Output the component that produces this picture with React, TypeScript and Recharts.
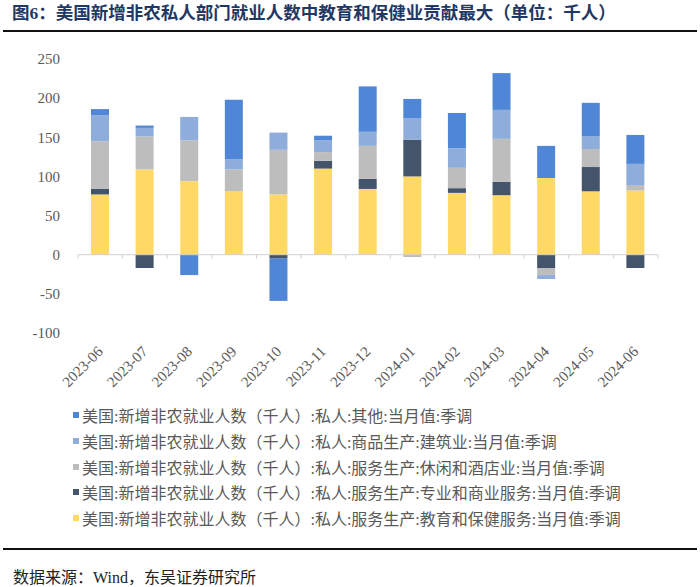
import { BarChart, Bar, XAxis, YAxis, ReferenceLine } from 'recharts';

const months = [
  '2023-06', '2023-07', '2023-08', '2023-09', '2023-10', '2023-11', '2023-12',
  '2024-01', '2024-02', '2024-03', '2024-04', '2024-05', '2024-06',
];
// 教育和保健服务
const eduHealth = [77, 109, 94, 81, 77, 110, 84, 100, 79, 76, 98, 81, 82];
// 专业和商业服务
const profBusiness = [7, -17, 0, 0, -5, 10, 13, 47, 6, 17, -17, 31, -17];
// 休闲和酒店业
const leisure = [61, 42, 52, 28, 57, 11, 42, -3, 26, 55, -9, 23, 7];
// 建筑业
const construction = [33, 11, 30, 13, 22, 15, 18, 27, 25, 37, -5, 16, 27];
// 其他
const other = [8, 3, -26, 76, -54, 6, 58, 25, 45, 47, 41, 43, 37];
const yTicks = [-100, -50, 0, 50, 100, 150, 200, 250];

const data = months.map((m, i) => ({
  month: m,
  eduHealth: eduHealth[i],
  profBusiness: profBusiness[i],
  leisure: leisure[i],
  construction: construction[i],
  other: other[i],
}));

const series = [
  { key: 'eduHealth', color: '#FFD966', name: '美国:新增非农就业人数（千人）:私人:服务生产:教育和保健服务:当月值:季调' },
  { key: 'profBusiness', color: '#44546A', name: '美国:新增非农就业人数（千人）:私人:服务生产:专业和商业服务:当月值:季调' },
  { key: 'leisure', color: '#BDBDBD', name: '美国:新增非农就业人数（千人）:私人:服务生产:休闲和酒店业:当月值:季调' },
  { key: 'construction', color: '#8FADDA', name: '美国:新增非农就业人数（千人）:私人:商品生产:建筑业:当月值:季调' },
  { key: 'other', color: '#4F87D6', name: '美国:新增非农就业人数（千人）:私人:其他:当月值:季调' },
];

const serif = "'Liberation Serif', 'Times New Roman', serif";
const cjk = "'Liberation Serif', 'Noto Sans CJK SC', serif";

const MonthTick = (props: any) => {
  const { x, y, payload } = props;
  const ax = x;
  const ay = y + 16;
  return (
    <text
      x={ax}
      y={ay}
      transform={`rotate(-45, ${ax}, ${ay})`}
      textAnchor="end"
      dominantBaseline="central"
      fontSize={15}
      fontFamily={serif}
      fill="#595959"
    >
      {payload.value}
    </text>
  );
};

// zero line with category boundary tick marks
const ZeroAxis = (props: any) => {
  const { x1, y1, x2 } = props;
  const n = months.length;
  const step = (x2 - x1) / n;
  return (
    <g>
      <line x1={x1} y1={y1} x2={x2} y2={y1} stroke="#D0D0D0" strokeWidth={1} />
      {Array.from({ length: n + 1 }, (_, i) => (
        <line key={i} x1={x1 + i * step} y1={y1} x2={x1 + i * step} y2={y1 + 4} stroke="#D0D0D0" strokeWidth={1} />
      ))}
    </g>
  );
};

export default function App() {
  const legendRows = [...series].reverse();
  return (
    <div style={{ position: 'absolute', left: 0, top: 0, width: 700, height: 587, background: '#fff', overflow: 'hidden' }}>
      <div
        style={{
          position: 'absolute', left: 12, top: 2, fontSize: 17.5, fontWeight: 700, color: '#1F3864',
          fontFamily: cjk, lineHeight: '22px', whiteSpace: 'nowrap',
        }}
      >
        图6：美国新增非农私人部门就业人数中教育和保健业贡献最大（单位：千人）
      </div>
      <div style={{ position: 'absolute', left: 3, top: 30, width: 694, height: 2, background: '#111' }} />

      <div style={{ position: 'absolute', left: 0, top: 0 }}>
        <BarChart
          width={700}
          height={400}
          data={data}
          stackOffset="sign"
          barSize={18}
          margin={{ top: 59, right: 42, left: 0, bottom: 7 }}
        >
          <XAxis
            dataKey="month"
            axisLine={false}
            tickLine={false}
            tickSize={0}
            tickMargin={0}
            height={60}
            interval={0}
            tick={<MonthTick />}
          />
          <YAxis
            domain={[-100, 250]}
            ticks={yTicks}
            axisLine={false}
            tickLine={false}
            tickSize={6}
            tickMargin={12}
            width={78}
            tick={{ fontSize: 15, fill: '#595959', fontFamily: serif }}
          />
          {series.map((s) => (
            <Bar key={s.key} dataKey={s.key} stackId="a" fill={s.color} isAnimationActive={false} />
          ))}
          <ReferenceLine y={0} shape={<ZeroAxis />} />
        </BarChart>
      </div>

      {legendRows.map((s, i) => (
        <div
          key={s.key}
          style={{
            position: 'absolute', left: 73, top: 415 + i * 25.8 - 12, height: 24, display: 'flex',
            alignItems: 'center', whiteSpace: 'nowrap',
          }}
        >
          <span style={{ display: 'inline-block', width: 6, height: 6, background: s.color, marginRight: 3 }} />
          <span style={{ fontSize: 16, color: '#595959', fontFamily: cjk }}>{s.name}</span>
        </div>
      ))}

      <div style={{ position: 'absolute', left: 3, top: 548, width: 694, height: 2, background: '#111' }} />
      <div
        style={{
          position: 'absolute', left: 13, top: 566, fontSize: 16, color: '#222', fontFamily: cjk,
          lineHeight: '24px', whiteSpace: 'nowrap',
        }}
      >
        数据来源：Wind，东吴证券研究所
      </div>
    </div>
  );
}
